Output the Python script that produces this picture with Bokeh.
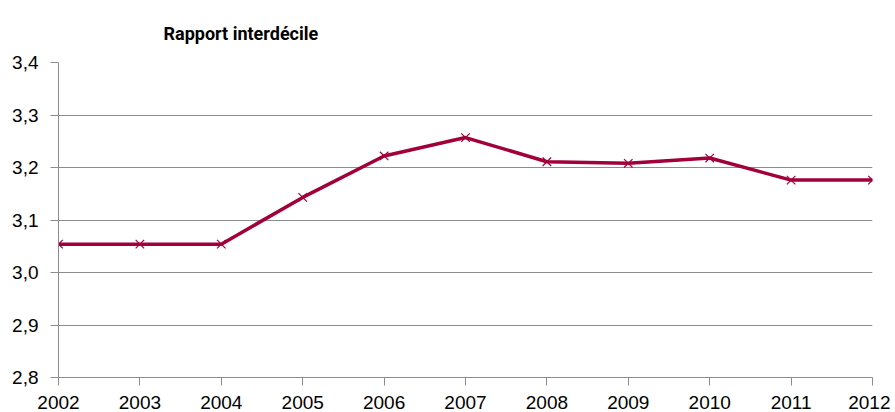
from bokeh.plotting import figure
from bokeh.models import FixedTicker, CustomJSTickFormatter
from bokeh.embed import file_html
from bokeh.resources import INLINE

years = [2002, 2003, 2004, 2005, 2006, 2007, 2008, 2009, 2010, 2011, 2012]
ratio = [3.054, 3.054, 3.054, 3.143, 3.222, 3.257, 3.211, 3.208, 3.218, 3.176, 3.176]
y_ticks = [2.8, 2.9, 3.0, 3.1, 3.2, 3.3, 3.4]
title_text = "Rapport interdécile"

LINE = "#A2003A"
GRID = "#8C8C8C"
FONT = "Liberation Sans"

p = figure(width=890, height=412, output_backend="svg", toolbar_location=None,
           x_range=(2002, 2012), y_range=(2.8, 3.4),
           min_border_left=58, min_border_right=18, min_border_top=62, min_border_bottom=35)
p.outline_line_color = None
p.background_fill_color = "white"
p.border_fill_color = "white"

p.line(years, ratio, line_color=LINE, line_width=3.5)
p.scatter(years, ratio, marker="x", size=12, line_color=LINE, line_width=1.2)

p.xaxis.ticker = FixedTicker(ticks=years)
p.yaxis.ticker = FixedTicker(ticks=y_ticks)
p.yaxis.formatter = CustomJSTickFormatter(code="return tick.toFixed(1).replace('.', ',');")
p.xgrid.grid_line_color = None
p.ygrid.grid_line_color = GRID
p.ygrid.grid_line_width = 1

for ax in (p.xaxis, p.yaxis):
    ax.axis_line_color = GRID
    ax.major_tick_line_color = GRID
    ax.minor_tick_line_color = None
    ax.major_tick_in = 0
    ax.major_tick_out = 8
    ax.major_label_text_font = FONT
    ax.major_label_text_font_size = "19px"
    ax.major_label_text_color = "black"
p.xaxis.major_label_standoff = 10
p.yaxis.major_label_standoff = 12

p.title.text = title_text
p.title.align = "left"
p.title.offset = 105
p.title.text_font = "Roboto"
p.title.text_font_style = "bold"
p.title.text_font_size = "18px"
p.title.text_color = "black"
p.title.standoff = 37

open("out.html", "w").write(file_html(p, INLINE))
